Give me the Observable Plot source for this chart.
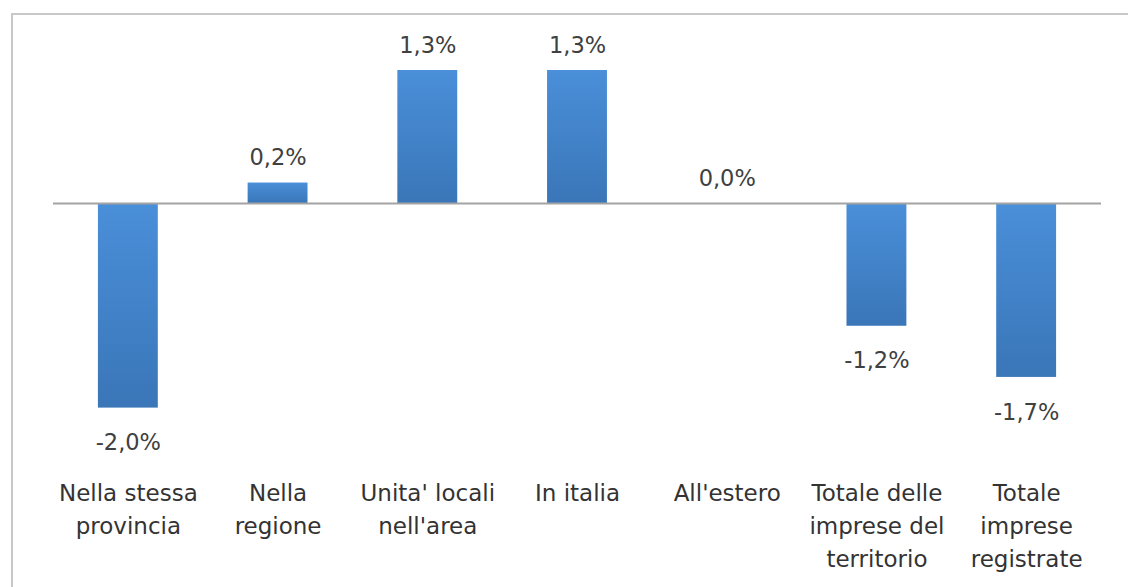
<!DOCTYPE html>
<html>
<head>
<meta charset="utf-8">
<script src="https://cdn.jsdelivr.net/npm/d3@7"></script>
<script src="https://cdn.jsdelivr.net/npm/@observablehq/plot@0.6"></script>
<style>
  html, body { margin: 0; padding: 0; background: #fff; width: 1128px; height: 587px; overflow: hidden; }
  #border { position: absolute; left: 11px; top: 13px; width: 1300px; height: 800px; border: 2px solid #c8c8c8; box-sizing: border-box; }
  #chart { position: absolute; left: 0; top: 0; }
  #chart svg { background: transparent; }
</style>
</head>
<body>
<div id="border"></div>
<div id="chart"></div>
<script>
const categories = [
  "Nella stessa\nprovincia",
  "Nella\nregione",
  "Unita' locali\nnell'area",
  "In italia",
  "All'estero",
  "Totale delle\nimprese del\nterritorio",
  "Totale\nimprese\nregistrate"
];
const values = [-2.0, 0.2, 1.3, 1.3, 0.0, -1.2, -1.7];

const data = categories.map((c, i) => ({category: c, value: values[i]}));
const fmt = v => d3.format(".1f")(v).replace(".", ",").replace("−", "-") + "%";

const gradient = () => {
  const ns = "http://www.w3.org/2000/svg";
  const defs = document.createElementNS(ns, "defs");
  defs.innerHTML = `<linearGradient id="barGrad" x1="0" y1="0" x2="0" y2="1">
      <stop offset="0%" stop-color="#4a8fd9"/>
      <stop offset="100%" stop-color="#3a76b8"/>
    </linearGradient>`;
  return defs;
};

const font = "'DejaVu Sans', sans-serif";

const chart = Plot.plot({
  width: 1128,
  height: 587,
  marginLeft: 53,
  marginRight: 27,
  marginTop: 70,
  marginBottom: 179.4,
  style: {background: "transparent", fontFamily: font},
  x: {domain: categories, paddingInner: 0.6, paddingOuter: 0.3, round: false, axis: null},
  y: {domain: [-2.0, 1.3], axis: null},
  marks: [
    gradient,
    Plot.barY(data, {x: "category", y: "value", fill: "url(#barGrad)"}),
    Plot.ruleY([0], {stroke: "#a3a3a3", strokeWidth: 2}),
    Plot.text(data, {
      x: "category", y: "value", text: d => fmt(d.value),
      fontSize: 22.5, fill: "#404040", fontFamily: font,
      filter: d => d.value >= 0, dy: -25
    }),
    Plot.text(data, {
      x: "category", y: "value", text: d => fmt(d.value),
      fontSize: 22.5, fill: "#404040", fontFamily: font,
      filter: d => d.value < 0, dy: 35
    }),
    Plot.text(data, {
      x: "category", text: "category", frameAnchor: "bottom",
      lineAnchor: "top", dy: 70, lineHeight: 1.42,
      fontSize: 23, fill: "#333333", fontFamily: font
    })
  ]
});
document.getElementById("chart").appendChild(chart);
</script>
</body>
</html>
